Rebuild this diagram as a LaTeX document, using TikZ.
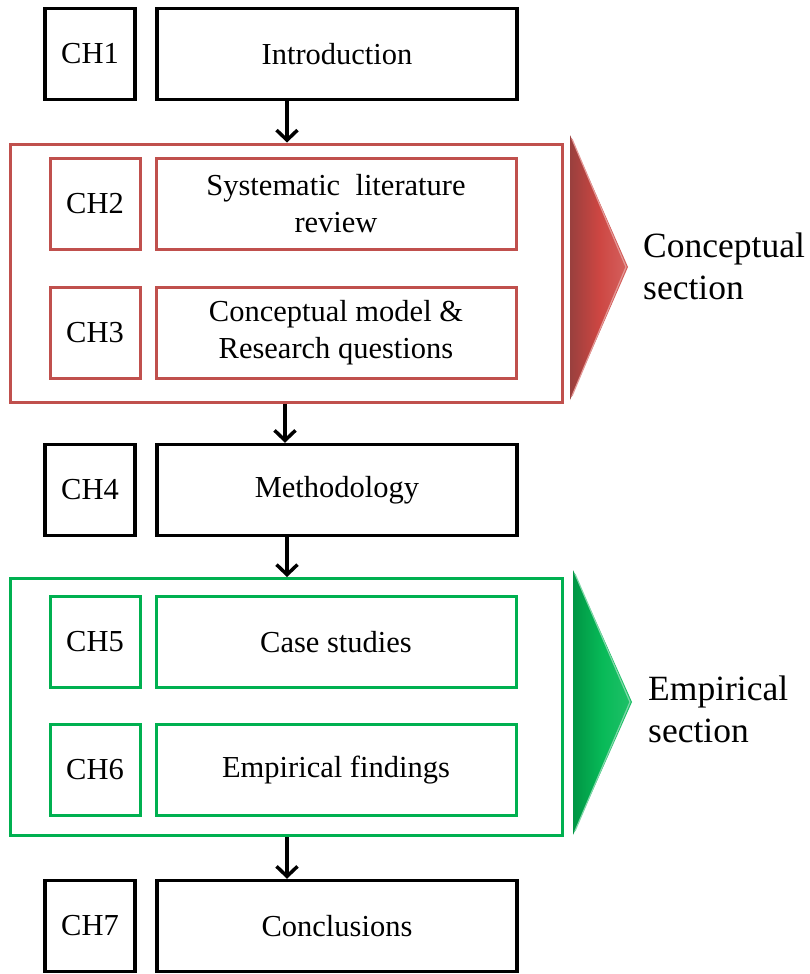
\documentclass[tikz,border=0pt]{standalone}
\usepackage{fontspec}
\setmainfont{Liberation Serif}
\usetikzlibrary{arrows.meta}
\definecolor{secred}{RGB}{192,80,77}
\definecolor{trired}{RGB}{205,70,66}
\definecolor{secgreen}{RGB}{0,176,80}
\definecolor{trigreen}{RGB}{8,186,88}
\begin{document}
\begin{tikzpicture}[x=1pt,y=-1pt,
  box/.style={draw=black, line width=3.5pt, inner sep=0pt, align=center,
    font=\fontsize{30.5}{37}\selectfont},
  chbox/.style={box, minimum width=90pt, minimum height=91pt},
  wide/.style={box, minimum width=360pt, minimum height=91pt},
  redbox/.style={draw=secred, line width=3pt},
  greenbox/.style={draw=secgreen, line width=3pt},
  flow/.style={line width=3.5pt, -{Straight Barb[length=10pt,width=21pt,line width=3.5pt]}},
  sidelabel/.style={anchor=west, align=left, inner sep=0pt,
    font=\fontsize{35.5}{42}\selectfont}]
  % canvas
  \fill[white] (0,0) rectangle (810,974);
  \useasboundingbox (0,0) rectangle (810,974);

  % chapter 1
  \node[chbox] (ch1) at (90,54) {CH1};
  \node[wide] (intro) at (337,54) {Introduction};

  % conceptual section
  \node[box, redbox, minimum width=552pt, minimum height=258pt] (concept) at (286,273) {};
  \node[chbox, redbox] (ch2) at (95,204) {CH2};
  \node[wide, redbox] (slr) at (336,204) {Systematic\ \ literature\\review};
  \node[chbox, redbox] (ch3) at (95,333) {CH3};
  \node[wide, redbox] (model) at (336,333) {Conceptual model \&\\Research questions};

  % chapter 4
  \node[chbox] (ch4) at (90,490) {CH4};
  \node[wide] (method) at (337,490) {Methodology};

  % empirical section
  \node[box, greenbox, minimum width=552pt, minimum height=257pt] (empir) at (286,707) {};
  \node[chbox, greenbox] (ch5) at (95,642) {CH5};
  \node[wide, greenbox] (cases) at (336,642) {Case studies};
  \node[chbox, greenbox] (ch6) at (95,770) {CH6};
  \node[wide, greenbox] (findings) at (336,770) {Empirical findings};

  % chapter 7
  \node[chbox] (ch7) at (90,926) {CH7};
  \node[wide] (concl) at (337,926) {Conclusions};

  % section markers
  \shade[left color=secred!80!black, right color=trired!85!white, middle color=trired]
    (570,135) -- (628,267) -- (570,400) -- cycle;
  \draw[trired!55!white, line width=1.2pt, line join=round]
    (572,139) -- (626,267) -- (572,396);
  \shade[left color=secgreen!85!black, right color=trigreen!90!white, middle color=trigreen]
    (573,570) -- (632,702) -- (573,835) -- cycle;
  \draw[secgreen!50!white, line width=1.2pt, line join=round]
    (575,574) -- (630,702) -- (575,831);
  \node[sidelabel] (lblc) at (643,266) {Conceptual\\section};
  \node[sidelabel] (lble) at (648,709) {Empirical\\section};

  % flow between chapters
  \coordinate (ax) at (287,0);
  \coordinate (bx) at (285,0);
  \draw[flow] (intro.south -| ax) -- (concept.north -| ax);
  \draw[flow] (concept.south -| bx) -- (method.north -| bx);
  \draw[flow] (method.south -| ax) -- (empir.north -| ax);
  \draw[flow] (empir.south -| ax) -- (concl.north -| ax);
\end{tikzpicture}
\end{document}
